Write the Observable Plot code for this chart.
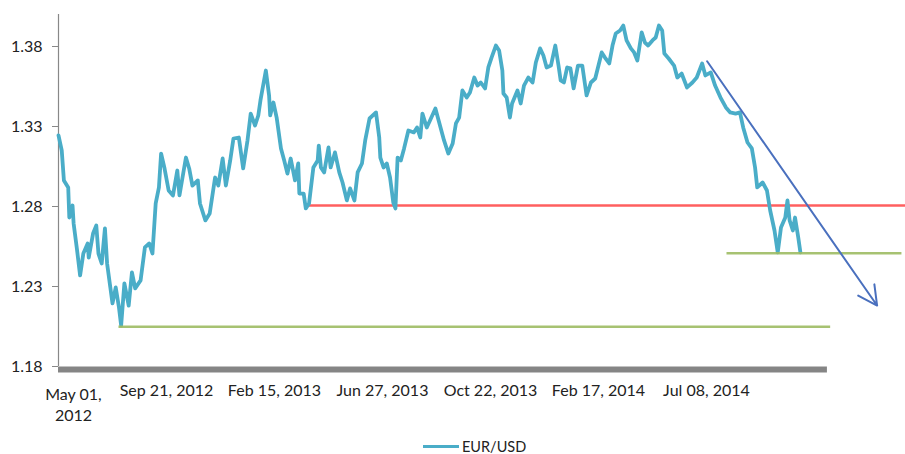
<!DOCTYPE html>
<html>
<head>
<meta charset="utf-8">
<script src="https://cdn.jsdelivr.net/npm/d3@7"></script>
<script src="https://cdn.jsdelivr.net/npm/@observablehq/plot@0.6"></script>
<style>
  html, body { margin: 0; padding: 0; background: #fff; }
  #wrap { position: relative; width: 905px; height: 454px; overflow: hidden; font-family: Lato, "Open Sans", sans-serif; }
  #legend { position: absolute; top: 439px; left: 423px; height: 15px; line-height: 15px; display: flex; align-items: center; font-size: 14.5px; color: #222; }
  #legend .sw { width: 36px; height: 3px; background: #4aadc8; margin-right: 3px; }
</style>
</head>
<body>
<div id="wrap">
  <div id="chart"></div>
  <div id="legend"><span class="sw"></span><span>EUR/USD</span></div>
</div>
<script>
// Trading-day index (category position) and EUR/USD rate
const dayIndex = [0,3,5,9,10,13,14,17,20,23,27,28,32,35,37,40,43,45,48,50,53,56,58,61,65,68,71,76,80,84,87,90,93,95,98,102,106,110,112,118,121,124,129,131,136,140,145,148,152,155,159,162,167,171,175,178,182,185,187,192,195,196,199,202,206,209,212,215,219,222,223,227,229,232,236,240,241,243,246,250,252,256,260,263,267,270,274,277,281,284,288,294,297,298,301,304,307,310,312,314,317,320,324,329,332,335,337,341,344,349,352,357,361,365,368,371,374,378,381,385,388,391,395,398,401,405,408,411,412,415,418,420,425,428,431,435,439,442,446,449,452,456,460,463,465,468,471,474,477,481,485,489,493,497,500,503,506,510,513,516,520,523,526,530,533,536,540,543,546,550,553,556,559,561,565,570,573,577,582,587,591,596,599,604,608,613,618,622,627,631,634,638,642,645,647,652,656,659,663,666,669,673,675,677,680,682,685,687];
const eurusd = [1.3244,1.3150,1.2963,1.2919,1.2731,1.2806,1.2694,1.2538,1.2369,1.2506,1.2569,1.2481,1.2631,1.2681,1.2506,1.2444,1.2663,1.2444,1.2294,1.2194,1.2294,1.2169,1.2056,1.2319,1.2181,1.2388,1.2288,1.2338,1.2544,1.2569,1.2506,1.2819,1.2919,1.3131,1.3044,1.2900,1.2869,1.3025,1.2869,1.3106,1.3038,1.2931,1.2963,1.2819,1.2713,1.2756,1.2981,1.2931,1.3100,1.2931,1.3088,1.3225,1.3231,1.3038,1.3213,1.3381,1.3306,1.3369,1.3463,1.3650,1.3494,1.3369,1.3450,1.3356,1.3163,1.3088,1.3006,1.3100,1.2963,1.3069,1.2881,1.2881,1.2788,1.2819,1.3044,1.3088,1.3181,1.3044,1.3013,1.3169,1.3044,1.3138,1.3013,1.2950,1.2838,1.2913,1.2838,1.3013,1.3069,1.3213,1.3350,1.3388,1.3231,1.3106,1.3044,1.3069,1.2981,1.2825,1.2788,1.3106,1.3088,1.3163,1.3275,1.3263,1.3294,1.3231,1.3381,1.3294,1.3338,1.3413,1.3338,1.3213,1.3131,1.3194,1.3319,1.3356,1.3525,1.3481,1.3513,1.3606,1.3556,1.3575,1.3538,1.3669,1.3731,1.3806,1.3775,1.3650,1.3506,1.3481,1.3356,1.3444,1.3525,1.3444,1.3556,1.3606,1.3575,1.3700,1.3788,1.3744,1.3669,1.3681,1.3806,1.3681,1.3588,1.3575,1.3669,1.3663,1.3538,1.3681,1.3681,1.3494,1.3575,1.3600,1.3681,1.3763,1.3731,1.3694,1.3806,1.3881,1.3900,1.3931,1.3838,1.3788,1.3763,1.3713,1.3888,1.3825,1.3806,1.3838,1.3856,1.3931,1.3900,1.3756,1.3725,1.3681,1.3606,1.3631,1.3544,1.3575,1.3606,1.3694,1.3619,1.3638,1.3556,1.3481,1.3419,1.3388,1.3381,1.3388,1.3294,1.3200,1.3163,1.3044,1.2919,1.2950,1.2900,1.2775,1.2650,1.2513,1.2669,1.2731,1.2838,1.2713,1.2650,1.2731,1.2606,1.2513];

// Category axis: tick positions & labels
const xTickIndex = [0, 100, 200, 300, 400, 500, 600];
const xTickLabels = ["May 01,\n2012", "Sep 21, 2012", "Feb 15, 2013", "Jun 27, 2013", "Oct 22, 2013", "Feb 17, 2014", "Jul 08, 2014"];
const yTicks = [1.18, 1.23, 1.28, 1.33, 1.38];
const categoryEnd = 712;     // last category of the axis
const xDomain = [0, 784.3];
const yDomain = [1.18, 1.40];

// Hand-drawn annotations (value units)
const resistance = [{y: 1.2806, x1: 229, x2: 784.3}];
const supports = [{y: 1.2048, x1: 56, x2: 715}, {y: 1.2508, x1: 619, x2: 781}];
const trendArrow = [{x1: 600.6, y1: 1.3708, x2: 758, y2: 1.2181}];

const series = dayIndex.map((d, i) => ({day: d, rate: eurusd[i]}));
const ticks = xTickIndex.map((d, i) => ({day: d, label: xTickLabels[i]}));

const chart = Plot.plot({
  width: 905,
  height: 430,
  marginLeft: 58,
  marginRight: 0,
  marginTop: 14,
  marginBottom: 64,
  style: {fontFamily: "Lato, 'Open Sans', sans-serif", fontSize: "16px", color: "#222", background: "#fff"},
  x: {domain: xDomain, axis: null},
  y: {domain: yDomain},
  marks: [
    Plot.axisY({ticks: yTicks, tickFormat: d3.format(".2f"), tickSize: 6, tickPadding: 10, stroke: "#888", label: null, fontSize: 16}),
    Plot.ruleX([0], {stroke: "#888", strokeWidth: 1.2}),
    Plot.ruleY([{y: yDomain[0], x1: 0, x2: categoryEnd}], {y: "y", x1: "x1", x2: "x2", stroke: "#858585", strokeWidth: 6, dy: 3}),
    Plot.text(ticks.slice(0, 1), {x: "day", y: () => yDomain[0], text: "label", lineAnchor: "top", dy: 18, dx: 15, lineHeight: 1.35, fill: "#222"}),
    Plot.text(ticks.slice(1), {x: "day", y: () => yDomain[0], text: "label", lineAnchor: "top", dy: 18, fill: "#222"}),
    Plot.ruleY(resistance, {y: "y", x1: "x1", x2: "x2", stroke: "#ff5f5f", strokeWidth: 2.5}),
    Plot.line(series, {x: "day", y: "rate", stroke: "#4aadc8", strokeWidth: 3.8, strokeLinejoin: "round"}),
    Plot.ruleY(supports, {y: "y", x1: "x1", x2: "x2", stroke: "#9dbb63", strokeWidth: 2.5, strokeOpacity: 0.9}),
    Plot.arrow(trendArrow, {x1: "x1", y1: "y1", x2: "x2", y2: "y2", stroke: "#4a70be", strokeWidth: 2, headLength: 16, headAngle: 55})
  ]
});
document.getElementById("chart").appendChild(chart);
</script>
</body>
</html>
